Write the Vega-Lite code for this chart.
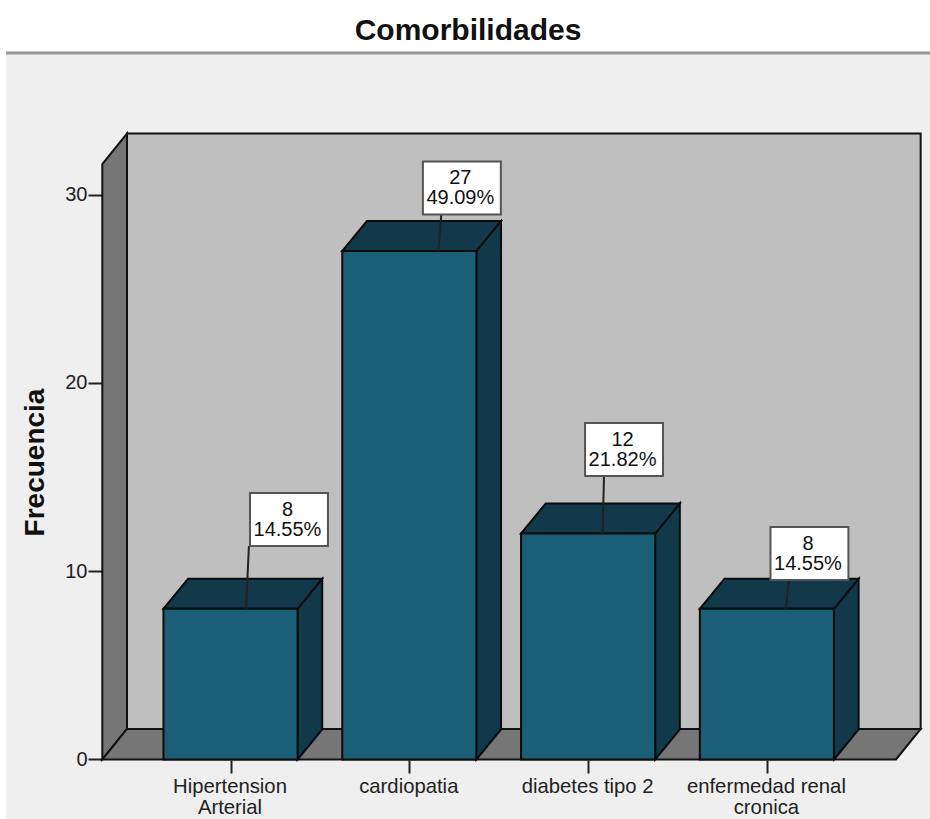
{
  "$schema": "https://vega.github.io/schema/vega-lite/v6.json",
  "width": 924,
  "height": 766,
  "padding": {"left": 6, "top": 53, "right": 0, "bottom": 0},
  "autosize": {"type": "none"},
  "background": "#ffffff",
  "view": {"fill": "#efefef", "stroke": null},
  "title": {
    "text": "Comorbilidades",
    "font": "Liberation Sans",
    "fontSize": 30,
    "fontWeight": "bold",
    "color": "#111111",
    "anchor": "middle",
    "offset": 6
  },
  "datasets": {
    "bars": [
      {"cat": "Hipertension Arterial", "n": 8, "pct": 14.55},
      {"cat": "cardiopatia", "n": 27, "pct": 49.09},
      {"cat": "diabetes tipo 2", "n": 12, "pct": 21.82},
      {"cat": "enfermedad renal cronica", "n": 8, "pct": 14.55}
    ],
    "corners": [{"k": 0}, {"k": 1}, {"k": 2}, {"k": 3}],
    "single": [{"k": 0}]
  },
  "layer": [
    {
      "description": "Header rule",
      "data": {"name": "single"},
      "mark": {"type": "rule", "color": "#989898", "strokeWidth": 3},
      "encoding": {
        "y": {
          "datum": 37.52,
          "type": "quantitative",
          "scale": {"domain": [-3.16, 37.52], "nice": false, "zero": false},
          "axis": {
            "orient": "left",
            "offset": -96,
            "values": [0, 10, 20, 30],
            "grid": false,
            "domain": false,
            "title": "Frecuencia",
            "titleFont": "Liberation Sans",
            "titleFontSize": 28,
            "titleFontWeight": "bold",
            "titleColor": "#111111",
            "titleX": -67,
            "titleY": 409,
            "titleBaseline": "middle",
            "labelFont": "Liberation Sans",
            "labelFontSize": 20,
            "labelColor": "#222222",
            "labelPadding": 1,
            "tickSize": 14,
            "tickWidth": 2,
            "tickColor": "#222222"
          }
        }
      }
    },
    {
      "description": "Back wall",
      "data": {"name": "single"},
      "mark": {"type": "rect", "fill": "#bfbfbf", "stroke": "#111111", "strokeWidth": 2},
      "encoding": {
        "x": {
          "datum": 0.421,
          "type": "quantitative",
          "scale": {"domain": [-0.2556, 4.9122], "nice": false, "zero": false},
          "axis": {
            "orient": "bottom",
            "offset": -59,
            "values": [1, 2, 3, 4],
            "grid": false,
            "domain": false,
            "title": null,
            "labelExpr": "[['Hipertension','Arterial'],['cardiopatia'],['diabetes tipo 2'],['enfermedad renal','cronica']][datum.value-1]",
            "labelFont": "Liberation Sans",
            "labelFontSize": 20.3,
            "labelColor": "#222222",
            "labelLineHeight": 21,
            "labelPadding": 3,
            "labelOffset": -1,
            "labelOverlap": false,
            "labelFlush": false,
            "labelBound": false,
            "tickSize": 13,
            "tickWidth": 2,
            "tickColor": "#222222"
          }
        },
        "x2": {"datum": 4.86},
        "y": {"datum": 1.62, "type": "quantitative"},
        "y2": {"datum": 33.24}
      }
    },
    {
      "description": "Left wall",
      "data": {"name": "corners"},
      "transform": [
        {"filter": "datum.k < 2"},
        {"calculate": "[0.283, 0.421][datum.k]", "as": "fx"},
        {"calculate": "[0, 1.62][datum.k]", "as": "lo"},
        {"calculate": "[31.62, 33.24][datum.k]", "as": "hi"}
      ],
      "mark": {"type": "area", "orient": "vertical", "fill": "#767676", "stroke": "#111111", "strokeWidth": 2},
      "encoding": {
        "x": {"field": "fx", "type": "quantitative"},
        "y": {"field": "lo", "type": "quantitative"},
        "y2": {"field": "hi"}
      }
    },
    {
      "description": "Floor",
      "data": {"name": "corners"},
      "transform": [
        {"calculate": "[0.283, 0.421, 4.722, 4.86][datum.k]", "as": "fx"},
        {"calculate": "[0, 0, 0, 1.62][datum.k]", "as": "lo"},
        {"calculate": "[0, 1.62, 1.62, 1.62][datum.k]", "as": "hi"}
      ],
      "mark": {"type": "area", "orient": "vertical", "fill": "#767676", "stroke": "#111111", "strokeWidth": 2},
      "encoding": {
        "x": {"field": "fx", "type": "quantitative"},
        "y": {"field": "lo", "type": "quantitative"},
        "y2": {"field": "hi"}
      }
    },
    {
      "description": "Right side of each bar",
      "data": {"name": "bars"},
      "transform": [
        {"window": [{"op": "row_number", "as": "idx"}]},
        {"calculate": "[0, 1]", "as": "k"},
        {"flatten": ["k"]},
        {"calculate": "datum.idx + 0.375 + datum.k * 0.138", "as": "fx"},
        {"calculate": "datum.k * 1.6", "as": "lo"},
        {"calculate": "datum.n + datum.k * 1.6", "as": "hi"}
      ],
      "mark": {"type": "area", "orient": "vertical", "fill": "#12394a", "stroke": "#0b0b0b", "strokeWidth": 2},
      "encoding": {
        "x": {"field": "fx", "type": "quantitative"},
        "y": {"field": "lo", "type": "quantitative"},
        "y2": {"field": "hi"},
        "detail": {"field": "cat"}
      }
    },
    {
      "description": "Top of each bar",
      "data": {"name": "bars"},
      "transform": [
        {"window": [{"op": "row_number", "as": "idx"}]},
        {"calculate": "[0, 1, 2, 3]", "as": "k"},
        {"flatten": ["k"]},
        {"calculate": "datum.idx + [-0.375, -0.237, 0.375, 0.513][datum.k]", "as": "fx"},
        {"calculate": "datum.n + [0, 0, 0, 1.6][datum.k]", "as": "lo"},
        {"calculate": "datum.n + [0, 1.6, 1.6, 1.6][datum.k]", "as": "hi"}
      ],
      "mark": {"type": "area", "orient": "vertical", "fill": "#12394a", "stroke": "#0b0b0b", "strokeWidth": 2},
      "encoding": {
        "x": {"field": "fx", "type": "quantitative"},
        "y": {"field": "lo", "type": "quantitative"},
        "y2": {"field": "hi"},
        "detail": {"field": "cat"}
      }
    },
    {
      "description": "Front of each bar",
      "data": {"name": "bars"},
      "transform": [
        {"window": [{"op": "row_number", "as": "idx"}]},
        {"calculate": "datum.idx - 0.375", "as": "x0"},
        {"calculate": "datum.idx + 0.375", "as": "x1"}
      ],
      "mark": {"type": "rect", "fill": "#1b5e78", "stroke": "#0b0b0b", "strokeWidth": 2},
      "encoding": {
        "x": {"field": "x0", "type": "quantitative"},
        "x2": {"field": "x1"},
        "y": {"field": "n", "type": "quantitative"},
        "y2": {"datum": 0}
      }
    },
    {
      "description": "Leader from each bar to its callout",
      "data": {"name": "bars"},
      "transform": [
        {"window": [{"op": "row_number", "as": "idx"}]},
        {"calculate": "datum.idx + [0.087, 0.162, 0.081, 0.106][datum.idx - 1]", "as": "x0"},
        {"calculate": "datum.idx + [0.103, 0.179, 0.089, 0.123][datum.idx - 1]", "as": "x1"},
        {"calculate": "datum.n + [3.34, 1.94, 3.06, 1.53][datum.idx - 1]", "as": "boxLo"}
      ],
      "mark": {"type": "rule", "color": "#222222", "strokeWidth": 2},
      "encoding": {
        "x": {"field": "x0", "type": "quantitative"},
        "x2": {"field": "x1"},
        "y": {"field": "n", "type": "quantitative"},
        "y2": {"field": "boxLo"}
      }
    },
    {
      "description": "Callout boxes",
      "data": {"name": "bars"},
      "transform": [
        {"window": [{"op": "row_number", "as": "idx"}]},
        {"calculate": "datum.idx + [0.327, 0.294, 0.201, 0.238][datum.idx - 1]", "as": "cx"},
        {"calculate": "datum.cx - 0.218", "as": "x0"},
        {"calculate": "datum.cx + 0.218", "as": "x1"},
        {"calculate": "datum.n + [3.34, 1.94, 3.06, 1.53][datum.idx - 1]", "as": "boxLo"},
        {"calculate": "datum.boxLo + 2.815", "as": "boxHi"}
      ],
      "mark": {"type": "rect", "fill": "#ffffff", "stroke": "#555555", "strokeWidth": 2},
      "encoding": {
        "x": {"field": "x0", "type": "quantitative"},
        "x2": {"field": "x1"},
        "y": {"field": "boxLo", "type": "quantitative"},
        "y2": {"field": "boxHi"}
      }
    },
    {
      "description": "Callout text: count and share",
      "data": {"name": "bars"},
      "transform": [
        {"window": [{"op": "row_number", "as": "idx"}]},
        {"calculate": "datum.idx + [0.327, 0.294, 0.201, 0.238][datum.idx - 1]", "as": "cx"},
        {"calculate": "datum.n + [3.34, 1.94, 3.06, 1.53][datum.idx - 1] + 1.93", "as": "cy"},
        {"calculate": "datum.n + '\\n' + format(datum.pct, '.2f') + '%'", "as": "label"}
      ],
      "mark": {
        "type": "text",
        "font": "Liberation Sans",
        "fontSize": 20,
        "color": "#111111",
        "align": "center",
        "baseline": "middle",
        "lineBreak": "\n",
        "lineHeight": 20,
        "dx": -1.5
      },
      "encoding": {
        "x": {"field": "cx", "type": "quantitative"},
        "y": {"field": "cy", "type": "quantitative"},
        "text": {"field": "label", "type": "nominal"}
      }
    }
  ]
}
